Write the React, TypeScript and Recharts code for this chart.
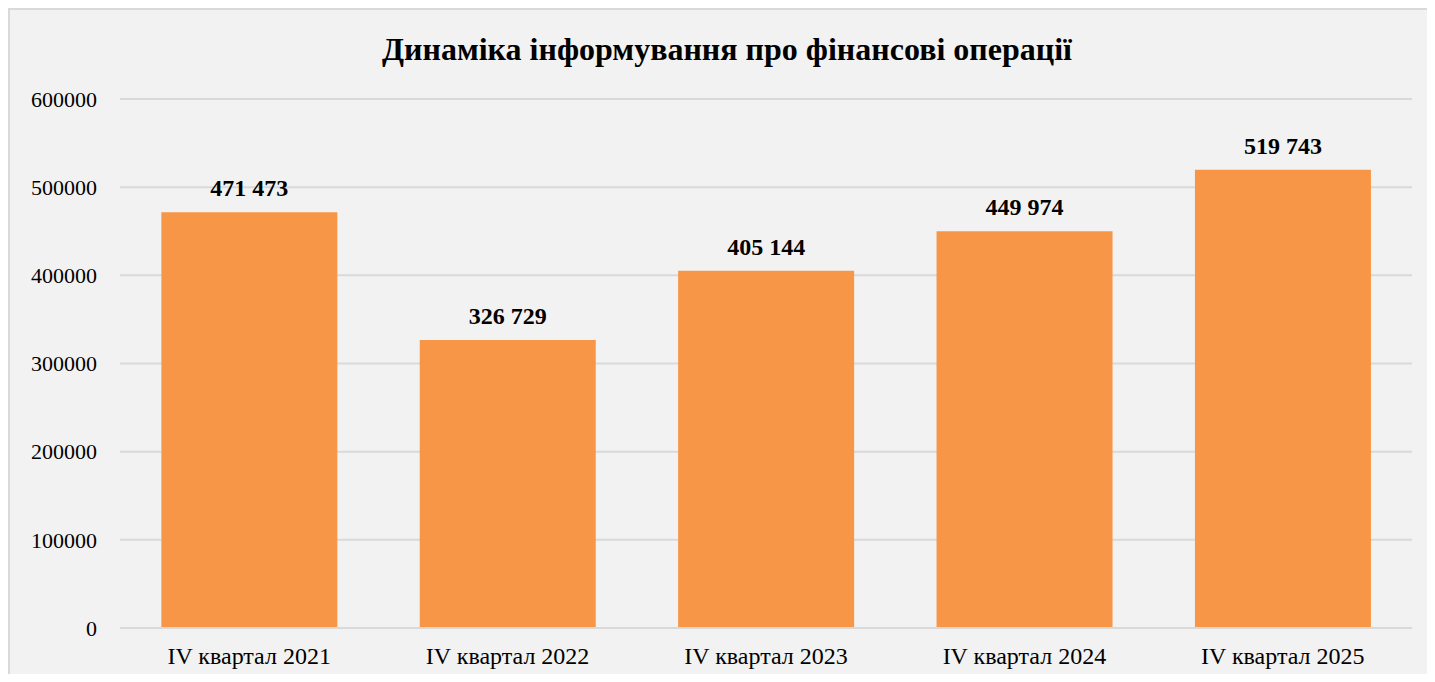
import { Bar, BarChart, CartesianGrid, LabelList, XAxis, YAxis } from "recharts";

const CATEGORIES = [
  "IV квартал 2021",
  "IV квартал 2022",
  "IV квартал 2023",
  "IV квартал 2024",
  "IV квартал 2025",
];
const VALUES = [471473, 326729, 405144, 449974, 519743];
const Y_TICKS = [0, 100000, 200000, 300000, 400000, 500000, 600000];

const data = CATEGORIES.map((name, i) => ({ name, value: VALUES[i] }));

const FONT = '"Liberation Serif", "Times New Roman", serif';

const fmt = (v: unknown) =>
  String(v).replace(/\B(?=(\d{3})+(?!\d))/g, " ");

export default function App() {
  return (
    <div
      style={{
        position: "relative",
        height: 672,
        marginRight: -8,
        marginBottom: -8,
        background: "#f2f2f2",
        borderTop: "2px solid #d9d9d9",
        borderLeft: "2px solid #d9d9d9",
        overflow: "hidden",
        fontFamily: FONT,
      }}
    >
      <div
        style={{
          position: "absolute",
          top: 21,
          left: 0,
          width: 1434,
          textAlign: "center",
          fontSize: 32,
          fontWeight: "bold",
          color: "#000",
          lineHeight: "36px",
        }}
      >
        Динаміка інформування про фінансові операції
      </div>
      <BarChart
        width={1425}
        height={672}
        data={data}
        margin={{ top: 89, right: 23, bottom: 0, left: 0 }}
        barCategoryGap="16%"
      >
        <CartesianGrid vertical={false} stroke="#d9d9d9" strokeWidth={2} />
        <XAxis
          dataKey="name"
          height={54}
          tickLine={false}
          axisLine={{ stroke: "#d9d9d9", strokeWidth: 2 }}
          tickSize={0}
          tickMargin={19}
          tick={{ fill: "#000", fontSize: 24, fontFamily: FONT }}
        />
        <YAxis
          width={110}
          domain={[0, 600000]}
          ticks={Y_TICKS}
          axisLine={false}
          tickLine={false}
          tickSize={0}
          tickMargin={23}
          tick={{ fill: "#000", fontSize: 22, fontFamily: FONT }}
        />
        <Bar dataKey="value" fill="#f79646" isAnimationActive={false}>
          <LabelList
            dataKey="value"
            position="top"
            offset={16}
            formatter={fmt}
            style={{ fill: "#000", fontSize: 24, fontWeight: "bold", fontFamily: FONT }}
          />
        </Bar>
      </BarChart>
    </div>
  );
}
